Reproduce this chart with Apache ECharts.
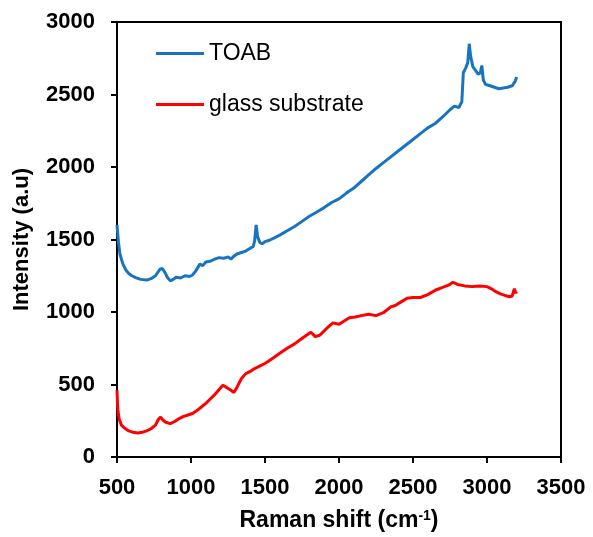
<!DOCTYPE html>
<html>
<head>
<meta charset="utf-8">
<script src="https://cdn.jsdelivr.net/npm/echarts@6/dist/echarts.min.js"></script>
<style>html,body{margin:0;padding:0;background:#fff}#c{width:593px;height:537px}</style>
</head>
<body>
<div id="c"></div>
<script>
var seriesNames = ['TOAB', 'glass substrate'];
var toabX = [500,510,520,540,560,580,600,630,660,700,730,760,790,805,820,840,860,880,900,930,960,990,1010,1030,1060,1080,1100,1130,1160,1190,1220,1250,1270,1290,1310,1340,1370,1400,1420,1430,1440,1450,1465,1480,1500,1530,1560,1600,1650,1700,1750,1800,1850,1900,1950,2000,2050,2100,2150,2200,2250,2300,2350,2400,2450,2500,2550,2600,2650,2700,2750,2780,2810,2830,2840,2855,2870,2880,2890,2905,2920,2940,2955,2965,2975,2990,3020,3050,3080,3110,3140,3170,3190,3200];
var toabY = [1600,1480,1400,1330,1290,1265,1250,1235,1225,1220,1230,1250,1295,1300,1280,1240,1215,1225,1240,1235,1250,1245,1255,1280,1330,1320,1345,1350,1365,1375,1370,1380,1365,1385,1400,1410,1420,1440,1450,1490,1600,1520,1480,1470,1485,1495,1510,1530,1560,1590,1625,1660,1690,1720,1755,1780,1820,1855,1900,1945,1990,2030,2070,2110,2150,2190,2230,2270,2300,2345,2395,2420,2410,2450,2650,2680,2720,2850,2760,2690,2670,2640,2650,2700,2600,2570,2560,2550,2540,2545,2550,2560,2590,2620];
var glassX = [500,505,515,530,550,580,610,640,670,700,730,760,780,795,810,830,860,890,920,950,980,1010,1040,1070,1100,1130,1160,1190,1215,1240,1270,1290,1310,1340,1370,1400,1430,1460,1500,1550,1600,1650,1700,1740,1780,1810,1840,1870,1900,1930,1960,2000,2030,2070,2110,2150,2200,2250,2300,2350,2380,2420,2460,2500,2550,2600,2650,2700,2740,2770,2800,2850,2900,2950,3000,3030,3060,3090,3120,3150,3170,3185,3195,3200];
var glassY = [460,330,260,220,200,180,170,165,170,180,195,220,260,275,255,240,230,245,265,280,290,300,320,345,370,400,430,465,495,480,460,445,480,540,575,590,610,625,645,680,715,750,780,810,840,860,830,840,870,900,925,915,935,960,965,975,985,975,995,1035,1045,1070,1095,1100,1100,1120,1150,1170,1185,1205,1190,1180,1175,1180,1175,1160,1140,1125,1115,1105,1110,1160,1130,1140];
var xTicks = [500,1000,1500,2000,2500,3000,3500];
var yTicks = [0,500,1000,1500,2000,2500,3000];

function zip(a, b) { return a.map(function (v, i) { return [v, b[i]]; }); }
function plain(v) { return String(v); }

var font = '"Liberation Sans", Arial, sans-serif';
var chart = echarts.init(document.getElementById('c'), null, {renderer: 'canvas'});
chart.setOption({
  animation: false,
  backgroundColor: '#fff',
  grid: {left: 117, right: 32, top: 22, bottom: 80, show: true, borderColor: '#000', borderWidth: 2, backgroundColor: 'transparent'},
  legend: [
    {data: [seriesNames[0]], left: 151, top: 37, icon: 'rect', itemWidth: 48, itemHeight: 3,
     textStyle: {fontFamily: font, fontSize: 23, color: '#000'}},
    {data: [seriesNames[1]], left: 151, top: 88, icon: 'rect', itemWidth: 48, itemHeight: 3,
     textStyle: {fontFamily: font, fontSize: 23, color: '#000'}}
  ],
  xAxis: {
    type: 'value', min: xTicks[0], max: xTicks[xTicks.length - 1], interval: 500,
    name: '{n|Raman shift (cm}{s|-1}{n|)}', nameLocation: 'middle', nameGap: 52,
    nameTextStyle: {rich: {
      n: {fontFamily: font, fontSize: 23, fontWeight: 'bold', color: '#000', verticalAlign: 'bottom'},
      s: {fontFamily: font, fontSize: 14, fontWeight: 'bold', color: '#000', verticalAlign: 'top', padding: [0, 0, 9, 0]}
    }},
    axisLine: {show: true, lineStyle: {color: '#000', width: 2}},
    axisTick: {show: true, inside: false, length: 6, lineStyle: {color: '#000', width: 2}},
    axisLabel: {fontFamily: font, fontSize: 22, fontWeight: 'bold', color: '#000', margin: 20, formatter: plain},
    splitLine: {show: false}
  },
  yAxis: {
    type: 'value', min: yTicks[0], max: yTicks[yTicks.length - 1], interval: 500,
    name: 'Intensity (a.u)', nameLocation: 'middle', nameGap: 84, nameRotate: 90,
    nameTextStyle: {fontFamily: font, fontSize: 22, fontWeight: 'bold', color: '#000'},
    axisLine: {show: true, lineStyle: {color: '#000', width: 2}},
    axisTick: {show: true, inside: false, length: 6, lineStyle: {color: '#000', width: 2}},
    axisLabel: {fontFamily: font, fontSize: 22, fontWeight: 'bold', color: '#000', margin: 22, formatter: plain},
    splitLine: {show: false}
  },
  series: [
    {name: seriesNames[0], type: 'line', data: zip(toabX, toabY), showSymbol: false, symbol: 'none',
     lineStyle: {color: '#1874C0', width: 3}, itemStyle: {color: '#1874C0'}},
    {name: seriesNames[1], type: 'line', data: zip(glassX, glassY), showSymbol: false, symbol: 'none',
     lineStyle: {color: '#FF0000', width: 3}, itemStyle: {color: '#FF0000'}}
  ]
});
</script>
</body>
</html>
